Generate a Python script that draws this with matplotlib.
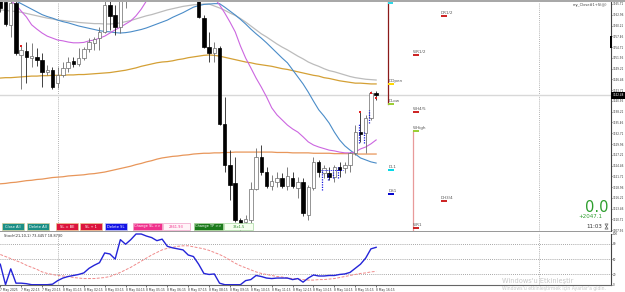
import matplotlib
matplotlib.use('Agg')
import matplotlib.pyplot as plt
from matplotlib.patches import Rectangle, Polygon

W, H = 625, 292

# ---------------- data ----------------
opens = [3368.0, 3366.2, 3360.3, 3366.0, 3352.7, 3353.7, 3351.9, 3352.2, 3351.4, 3348.4,
         3348.9, 3345.5, 3347.6, 3349.4, 3351.2, 3350.4, 3351.9, 3354.2, 3355.8, 3357.0,
         3358.6, 3365.5, 3362.9, 3359.8, 3367.2, 3370.6, 3373.9, 3372.4, 3376.9, 3375.7,
         3380.8, 3379.0, 3381.5, 3378.2, 3374.4, 3376.4, 3371.8, 3373.1, 3367.2, 3362.1,
         3354.7, 3353.2, 3354.5, 3335.1, 3324.6, 3320.0, 3310.6, 3310.1, 3310.6, 3318.5,
         3326.6, 3322.8, 3319.2, 3320.3, 3321.3, 3319.2, 3321.3, 3318.7, 3320.3, 3311.8,
         3318.7, 3325.4, 3322.6, 3322.6, 3321.5, 3324.1, 3323.8, 3324.6, 3327.7, 3333.0,
         3332.8, 3336.6, 3343.0]
highs = [3369.3, 3367.2, 3366.7, 3366.7, 3355.0, 3356.0, 3355.8, 3354.5, 3353.2, 3350.1,
         3349.6, 3349.6, 3350.9, 3352.2, 3352.2, 3354.5, 3354.7, 3357.0, 3357.3, 3359.8,
         3367.5, 3368.0, 3365.5, 3370.6, 3373.1, 3375.7, 3376.4, 3378.2, 3379.5, 3382.6,
         3383.3, 3383.6, 3382.6, 3379.5, 3378.2, 3377.5, 3374.9, 3374.4, 3369.3, 3362.9,
         3358.6, 3356.0, 3355.0, 3342.0, 3328.4, 3326.6, 3311.1, 3311.8, 3320.3, 3328.9,
         3329.7, 3324.1, 3322.1, 3322.8, 3322.6, 3324.1, 3322.8, 3321.5, 3321.3, 3319.5,
         3326.6, 3325.9, 3324.6, 3324.1, 3324.6, 3325.4, 3325.4, 3327.9, 3334.8, 3338.1,
         3337.4, 3343.5, 3343.4]
lows = [3363.7, 3360.1, 3357.3, 3352.7, 3344.0, 3345.5, 3349.6, 3349.9, 3344.5, 3347.6,
        3344.0, 3344.3, 3347.1, 3348.4, 3349.6, 3349.9, 3351.4, 3353.5, 3354.0, 3354.0,
        3358.3, 3359.1, 3357.8, 3358.3, 3364.7, 3368.8, 3370.6, 3371.3, 3373.9, 3374.4,
        3377.5, 3376.9, 3376.9, 3373.1, 3372.4, 3370.6, 3369.8, 3367.5, 3362.1, 3354.5,
        3350.9, 3350.9, 3334.8, 3322.8, 3315.7, 3310.0, 3307.5, 3308.5, 3309.8, 3318.2,
        3322.1, 3318.7, 3318.2, 3319.0, 3318.7, 3318.2, 3318.7, 3316.2, 3311.6, 3310.6,
        3318.2, 3321.5, 3321.3, 3320.8, 3320.3, 3321.5, 3322.6, 3322.8, 3327.2, 3330.5,
        3327.7, 3336.1, 3341.2]
closes = [3364.7, 3360.6, 3366.0, 3353.2, 3354.0, 3352.2, 3352.4, 3351.4, 3348.4, 3348.9,
          3344.5, 3347.6, 3349.4, 3350.9, 3350.4, 3351.9, 3354.2, 3356.0, 3356.8, 3358.6,
          3365.5, 3362.6, 3359.8, 3368.0, 3370.6, 3373.9, 3372.4, 3376.9, 3375.7, 3380.8,
          3379.0, 3381.5, 3378.2, 3374.4, 3376.4, 3371.8, 3373.1, 3368.8, 3362.4, 3354.7,
          3353.2, 3354.5, 3335.1, 3324.6, 3319.5, 3310.6, 3309.3, 3310.8, 3318.5, 3326.6,
          3322.8, 3319.2, 3320.5, 3321.3, 3319.2, 3321.8, 3319.2, 3320.3, 3312.4, 3319.0,
          3325.4, 3322.8, 3323.8, 3321.5, 3324.1, 3323.3, 3324.6, 3327.7, 3333.0, 3332.5,
          3336.6, 3343.0, 3342.5]

ma_gray = [3364.2, 3364.1, 3363.9, 3363.8, 3363.6, 3363.3, 3363.0, 3362.7, 3362.4, 3362.1,
           3361.9, 3361.6, 3361.5, 3361.3, 3361.2, 3361.0, 3360.9, 3360.8, 3360.7, 3360.7,
           3360.6, 3360.6, 3360.7, 3360.9, 3361.2, 3361.5, 3361.9, 3362.3, 3362.7, 3363.0,
           3363.4, 3363.8, 3364.2, 3364.5, 3364.8, 3365.1, 3365.3, 3365.5, 3365.6, 3365.7,
           3365.7, 3365.2, 3364.7, 3364.1, 3363.4, 3362.8, 3362.0, 3361.1, 3360.1, 3359.1,
           3358.1, 3357.3, 3356.4, 3355.5, 3354.7, 3354.0, 3353.2, 3352.4, 3351.7, 3350.9,
           3350.3, 3349.8, 3349.2, 3348.7, 3348.4, 3348.0, 3347.6, 3347.2, 3346.9, 3346.7,
           3346.5, 3346.4, 3346.3]
ma_blue = [3368.3, 3367.8, 3367.2, 3366.5, 3365.8, 3365.1, 3364.4, 3363.7, 3363.0, 3362.5,
           3362.1, 3361.6, 3361.2, 3360.9, 3360.5, 3360.1, 3359.8, 3359.5, 3359.2, 3358.9,
           3358.7, 3358.6, 3358.4, 3358.3, 3358.4, 3358.6, 3358.9, 3359.2, 3359.6, 3360.1,
           3360.6, 3361.1, 3361.6, 3362.3, 3362.9, 3363.5, 3364.2, 3364.9, 3365.3, 3365.6,
           3365.7, 3365.8, 3365.8, 3364.9, 3363.9, 3362.9, 3361.8, 3360.6, 3359.3, 3358.1,
           3357.0, 3355.8, 3354.5, 3353.2, 3351.9, 3350.7, 3348.9, 3347.1, 3345.3, 3343.2,
           3340.9, 3338.7, 3337.1, 3335.3, 3333.0, 3331.0, 3329.5, 3328.4, 3327.4, 3326.4,
           3325.9, 3325.4, 3325.1]
ma_violet = [3368.8, 3367.8, 3366.5, 3365.5, 3363.9, 3362.4, 3360.4, 3359.3, 3358.3, 3357.5,
             3357.0, 3356.5, 3356.3, 3356.0, 3355.8, 3355.8, 3355.9, 3356.3, 3356.5, 3357.0,
             3357.5, 3358.3, 3359.1, 3359.8, 3360.6, 3361.4, 3362.7, 3364.4, 3366.5, 3368.5,
             3370.3, 3371.8, 3373.1, 3373.9, 3374.4, 3374.4, 3373.9, 3373.1, 3371.8, 3370.3,
             3368.8, 3367.2, 3365.5, 3363.4, 3361.1, 3358.6, 3355.0, 3351.9, 3349.4, 3346.8,
             3344.5, 3342.0, 3339.2, 3337.4, 3336.1, 3334.8, 3333.8, 3333.0, 3331.8, 3330.5,
             3329.7, 3329.2, 3328.8, 3328.4, 3328.2, 3327.9, 3327.7, 3327.7, 3327.9, 3328.7,
             3329.2, 3330.0, 3331.0]
ma_gold = [3346.8, 3346.9, 3346.9, 3347.0, 3347.1, 3347.2, 3347.3, 3347.3, 3347.4, 3347.4,
           3347.5, 3347.5, 3347.5, 3347.6, 3347.6, 3347.7, 3347.7, 3347.8, 3347.9, 3348.0,
           3348.1, 3348.2, 3348.4, 3348.6, 3348.8, 3349.1, 3349.4, 3349.8, 3350.1, 3350.4,
           3350.7, 3350.9, 3351.0, 3351.2, 3351.5, 3351.7, 3352.0, 3352.2, 3352.4, 3352.6,
           3352.7, 3352.6, 3352.4, 3352.1, 3351.8, 3351.5, 3351.2, 3350.9, 3350.7, 3350.4,
           3350.2, 3350.0, 3349.8, 3349.5, 3349.2, 3349.0, 3348.7, 3348.4, 3348.1, 3347.8,
           3347.5, 3347.3, 3346.9, 3346.7, 3346.4, 3346.1, 3345.9, 3345.7, 3345.5, 3345.5,
           3345.4, 3345.3, 3345.3]
ma_sandy = [3319.8, 3319.9, 3320.1, 3320.2, 3320.4, 3320.6, 3320.7, 3320.9, 3321.0, 3321.2,
            3321.4, 3321.5, 3321.6, 3321.8, 3321.9, 3322.0, 3322.1, 3322.3, 3322.4, 3322.6,
            3322.8, 3323.1, 3323.4, 3323.7, 3324.0, 3324.3, 3324.7, 3325.0, 3325.4, 3325.7,
            3326.1, 3326.4, 3326.6, 3326.8, 3326.9, 3327.1, 3327.2, 3327.4, 3327.5, 3327.6,
            3327.6, 3327.7, 3327.7, 3327.8, 3327.8, 3327.9, 3327.9, 3327.9, 3327.9, 3327.9,
            3327.9, 3327.9, 3327.9, 3327.8, 3327.8, 3327.8, 3327.7, 3327.7, 3327.7, 3327.7,
            3327.6, 3327.6, 3327.6, 3327.6, 3327.5, 3327.5, 3327.5, 3327.5, 3327.4, 3327.4,
            3327.4, 3327.4, 3327.4]

stoch_main = [40, 0, 31, 3, 3, 2, 0, 0, 0, 0, 1, 8, 13, 16, 18, 20, 23, 32, 38, 43,
              62, 60, 50, 88, 79, 88, 99, 99, 95, 92, 86, 89, 75, 72, 70, 68, 58, 55, 40, 22,
              20, 21, 3, 0, 0, 0, 0, 8, 10, 18, 16, 13, 12, 13, 13, 13, 10, 12, 5, 13,
              19, 17, 17, 18, 18, 20, 21, 24, 32, 40, 52, 70, 73]
stoch_signal = [59, 55, 51, 47, 43, 38, 34, 30, 25, 22, 20, 18, 17, 16, 14, 13, 12, 12, 12, 13,
                14, 16, 20, 24, 29, 34, 40, 46, 52, 58, 63, 68, 71, 73, 75, 76, 76, 74, 72, 70,
                67, 63, 59, 54, 48, 42, 37, 33, 29, 25, 22, 20, 18, 16, 15, 13, 12, 11, 10, 9,
                9, 10, 10, 11, 12, 14, 16, 18, 20, 22, 23, 25, 26]
stoch_title = "Stoch(21,10,1) 73.4457 18.8730"

time_labels = ["7 May 2025", "7 May 22:15", "7 May 23:15", "8 May 01:15", "8 May 02:15",
               "8 May 03:15", "8 May 04:15", "8 May 05:15", "8 May 06:15", "8 May 07:15",
               "8 May 08:15", "8 May 09:15", "8 May 10:15", "8 May 11:15", "8 May 12:15",
               "8 May 13:15", "8 May 14:15", "8 May 15:15", "8 May 16:15"]
label_every = 4

price_top_label = 3365.71
price_step = 2.75
n_price_labels = 22
last_price = 3342.48

# pivot levels: name, bar position, price, colour
level_names = ["DOpen", "DLow", "DL1", "DS1", "DR1/2", "WR1/2", "WH4/5", "WHigh", "DH3/4", "WR1"]
level_bars = [74.3, 74.3, 74.3, 74.3, 84.4, 79.1, 79.1, 79.1, 84.4, 79.1]
level_prices = [3345.3, 3340.2, 3323.3, 3317.2, 3362.6, 3352.7, 3338.1, 3333.3, 3315.4, 3308.5]
level_colors = ['#ffd700', '#9acd32', '#00d8e8', '#0000cd', '#cc2020', '#cc2020', '#cc2020',
                '#9acd32', '#cc2020', '#cc2020']

# trade markers
blue_mark_bars = [62, 63, 64, 65, 69, 70, 71]
blue_mark_top = [3323.3, 3322.6, 3322.8, 3324.1, 3335.3, 3333.0, 3338.6]
blue_mark_bot = [3318.2, 3320.8, 3321.3, 3321.3, 3330.2, 3330.2, 3335.3]
red_mark_bars = [4, 69, 71, 72]
red_mark_prices = [3355.0, 3338.1, 3343.0, 3341.8]

# ---------------- layout ----------------
fig = plt.figure(figsize=(W / 100, H / 100), dpi=100)
fig.patch.set_facecolor('white')

def fx(px):
    return px / W

def fy(py):
    return 1 - py / H

BAR_PX = 5.22
BAR0_PX = 0.3
AX_RIGHT_PX = 611
xmin = (0 - BAR0_PX) / BAR_PX
xmax = (AX_RIGHT_PX - BAR0_PX) / BAR_PX

px_per_step = 10.77
main_top_px, main_bot_px, label0_px = 2, 231, 4
ymax = price_top_label + price_step * (label0_px - main_top_px) / px_per_step
ymin = price_top_label - price_step * (main_bot_px - label0_px) / px_per_step

TICK_FS = 1.95

ax = fig.add_axes([0, fy(main_bot_px), fx(AX_RIGHT_PX), (main_bot_px - main_top_px) / H])
ax.set_xlim(xmin, xmax)
ax.set_ylim(ymin, ymax)
for s in ['top', 'left', 'bottom']:
    ax.spines[s].set_visible(False)
ax.spines['right'].set_color('#444444')
ax.spines['right'].set_linewidth(0.8)
ax.tick_params(axis='x', bottom=False, labelbottom=False)
ticks = [price_top_label - price_step * k for k in range(n_price_labels)]
ax.yaxis.tick_right()
ax.set_yticks(ticks)
ax.set_yticklabels([f"{t:.2f}" for t in ticks], fontsize=TICK_FS, color='#333333')
ax.tick_params(axis='y', length=1.0, width=0.5, pad=0.3, colors='#333333')

n = len(opens)
xs = list(range(n))

# separators / grid
for xv in [(58 - BAR0_PX) / BAR_PX, (539 - BAR0_PX) / BAR_PX]:
    ax.axvline(xv, color='#9a9a9a', lw=0.6, ls=(0, (1, 1.5)), zorder=1)
ax.axhline(last_price, color='#d8d8d8', lw=1.0, zorder=1)

# moving averages
ax.plot(xs, ma_gray, color='#bcbcbc', lw=0.9, zorder=2)
ax.plot(xs, ma_gold, color='#d4a035', lw=0.9, zorder=2)
ax.plot(xs, ma_sandy, color='#e8965a', lw=0.9, zorder=2)
ax.plot(xs, ma_blue, color='#4a8cc8', lw=0.8, zorder=2)
ax.plot(xs, ma_violet, color='#cc66e0', lw=0.8, zorder=2)

# candles
for i in range(n):
    o, h, l, c = opens[i], highs[i], lows[i], closes[i]
    bull = c >= o
    ax.vlines(i, l, h, color='#6a6a6a' if bull else '#222222', lw=0.6, zorder=3)
    bot = min(o, c)
    ht = max(abs(c - o), 0.12)
    ax.add_patch(Rectangle((i - 0.33, bot), 0.66, ht,
                           facecolor='white' if bull else 'black',
                           edgecolor='#6a6a6a' if bull else 'black', lw=0.5, zorder=4))

# trade markers
for b, t, bt in zip(blue_mark_bars, blue_mark_top, blue_mark_bot):
    ax.vlines(b - 0.3, bt, t, color='#1a1ae0', lw=0.9, ls=(0, (1, 1)), zorder=5)
ax.plot([61.5, 65.7], [3323.3, 3323.3], color='#1a1ae0', lw=0.7, ls=(0, (1, 1)), zorder=5)
ax.scatter(red_mark_bars, red_mark_prices, s=2.5, marker='s', color='#e02020', zorder=6, lw=0)

# pivot levels
ax.plot([74.3, 74.3], [3340.2, ymax], color='#8b1a1a', lw=0.9, zorder=2)
ax.plot([79.1, 79.1], [ymin, 3333.3], color='#e89a9a', lw=0.9, zorder=2)
ax.add_patch(Rectangle((74.3, ymax - 0.45), 1.0, 0.45, color='#30d8e8', zorder=3, lw=0))
for name, b, p, col in zip(level_names, level_bars, level_prices, level_colors):
    ax.plot([b, b + 1.2], [p, p], color=col, lw=1.4, solid_capstyle='butt', zorder=3)
    ax.text(b, p + 0.35, name, fontsize=3.0, color='#555555', ha='left', va='bottom', zorder=3)

# price marker on axis
fig.patches.append(Rectangle((fx(611), fy(98.5)), fx(14), 7 / H, transform=fig.transFigure,
                             facecolor='black', edgecolor='none', zorder=10))
fig.text(fx(612.5), fy(95.3), f"{last_price:.2f}", fontsize=TICK_FS, color='white', va='center',
         ha='left', zorder=11)
fig.patches.append(Rectangle((fx(609.5), fy(48)), fx(2), 12 / H, transform=fig.transFigure,
                             facecolor='black', edgecolor='none', zorder=10))

# top bar
fig.patches.append(Rectangle((0, fy(2)), 1, 2 / H, transform=fig.transFigure,
                             facecolor='#a8a8a8', edgecolor='none', zorder=10))

fig.text(fx(607), fy(4.8), "my_Close#1+S(@)", fontsize=2.6, color='#444444', ha='right', va='center')

# info on right
fig.text(fx(597), fy(207), "0.0", fontsize=10.5, color='#2e9e2e', ha='center', va='center')
fig.text(fx(590), fy(217), "+2047.1", fontsize=4.0, color='#2e9e2e', ha='center', va='center')
fig.text(fx(594), fy(226.5), "11:03", fontsize=4.0, color='#333333', ha='center', va='center')
# small hourglass icon
hx, hy = 606.5, 226.5
fig.patches.append(Polygon([(fx(hx - 1.6), fy(hy - 2.6)), (fx(hx + 1.6), fy(hy - 2.6)),
                            (fx(hx), fy(hy)), (fx(hx + 1.6), fy(hy + 2.6)),
                            (fx(hx - 1.6), fy(hy + 2.6)), (fx(hx), fy(hy))],
                           closed=True, transform=fig.transFigure, facecolor='#dddddd',
                           edgecolor='#555555', lw=0.4, zorder=11))

# buttons
buttons = [("Close All", 2, 24, '#1a8f86', '#d8cf9a', 'white'),
           ("Delete All", 27, 49, '#1a8f86', '#d8cf9a', 'white'),
           ("SL = BE", 56, 78, '#dc143c', '#e8c890', 'white'),
           ("SL + 1", 80, 102, '#dc143c', '#e8c890', 'white'),
           ("Delete SL", 105, 127, '#1414e6', '#c8c8f0', 'white'),
           ("Change SL >>", 133, 162, '#f0308c', '#f0a8c8', 'white'),
           ("2361.93", 163, 190, '#fff4f8', '#f0a0c8', '#f0308c'),
           ("Change TP >>", 194, 223, '#1a7a1a', '#b0d8a0', 'white'),
           ("33x1.5", 224, 253, '#f6fff0', '#a8d8a0', '#2a8a2a')]
for txt, x0, x1, fc, ec, tc in buttons:
    fig.patches.append(Rectangle((fx(x0), fy(230)), fx(x1 - x0), 7 / H, transform=fig.transFigure,
                                 facecolor=fc, edgecolor=ec, lw=0.5, zorder=10))
    fig.text(fx((x0 + x1) / 2), fy(226.5), txt, fontsize=2.6, color=tc, ha='center', va='center',
             zorder=11)

# separator between panels
fig.patches.append(Rectangle((0, fy(232)), fx(AX_RIGHT_PX), 1.5 / H, transform=fig.transFigure,
                             facecolor='#9a9a9a', edgecolor='none', zorder=10))

# ---------------- lower panel ----------------
low_top_px, low_bot_px = 233.5, 284.7
ax2 = fig.add_axes([0, fy(low_bot_px), fx(AX_RIGHT_PX), (low_bot_px - low_top_px) / H])
ax2.set_xlim(xmin, xmax)
ax2.set_ylim(0, 100)
for s in ['top', 'left']:
    ax2.spines[s].set_visible(False)
ax2.spines['right'].set_color('#444444')
ax2.spines['right'].set_linewidth(0.8)
ax2.spines['bottom'].set_color('#666666')
ax2.spines['bottom'].set_linewidth(0.8)
ax2.yaxis.tick_right()
ax2.set_yticks([0, 20, 50, 80, 100])
ax2.set_yticklabels(["0", "20", "50", "80", "100"], fontsize=TICK_FS, color='#333333')
ax2.tick_params(axis='y', length=1.0, width=0.5, pad=0.3, colors='#333333')
for lv in [20, 50, 80]:
    ax2.axhline(lv, color='#8a8a8a', lw=0.6, ls=(0, (1, 1.5)))
for xv in [(58 - BAR0_PX) / BAR_PX, (539 - BAR0_PX) / BAR_PX]:
    ax2.axvline(xv, color='#9a9a9a', lw=0.6, ls=(0, (1, 1.5)))
ax2.plot(xs, stoch_signal, color='#f08a8a', lw=0.7, ls=(0, (3, 1.5)))
ax2.plot(xs, stoch_main, color='#2424d8', lw=1.0, clip_on=False)
ax2.text(0.8, 99, stoch_title, fontsize=2.6, color='#333333', ha='left', va='top')

tick_pos = list(range(0, n, label_every))
ax2.set_xticks(tick_pos)
ax2.set_xticklabels(time_labels[:len(tick_pos)], fontsize=2.2, color='#333333', ha='left')
ax2.tick_params(axis='x', length=1.5, width=0.5, pad=0.8, colors='#333333')

# watermark
fig.text(fx(502), fy(281), "Windows'u Etkinleştir", fontsize=4.8, color='#c8c8c8', ha='left', va='center')
fig.text(fx(502), fy(288.5), "Windows'u etkinleştirmek için Ayarlar'a gidin.", fontsize=3.3,
         color='#c8c8c8', ha='left', va='center')

fig.savefig('out.png', dpi=100)
